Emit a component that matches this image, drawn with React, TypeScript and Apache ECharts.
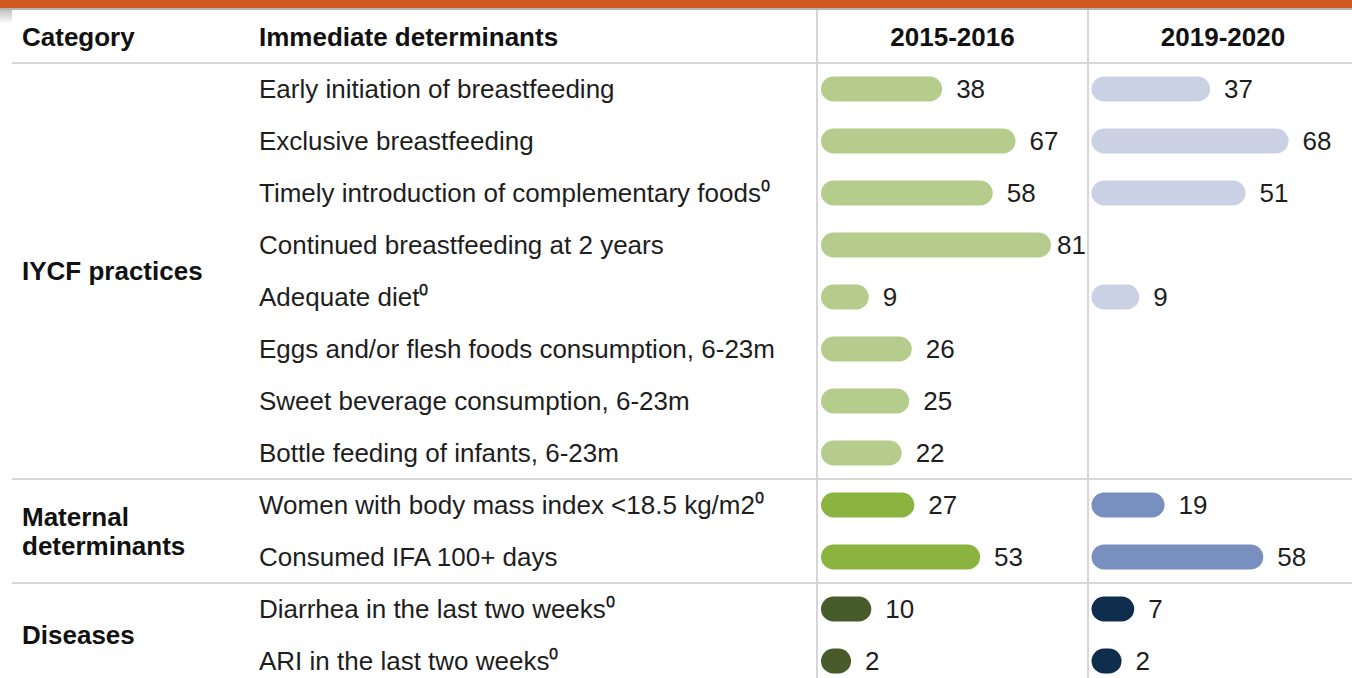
import React, { useEffect, useRef } from "react";
import * as echarts from "echarts";

// ---------- data ----------
const headers = ["Category", "Immediate determinants"];
const periods = ["2015-2016", "2019-2020"];
const determinants = [
  "Early initiation of breastfeeding",
  "Exclusive breastfeeding",
  "Timely introduction of complementary foods⁰",
  "Continued breastfeeding at 2 years",
  "Adequate diet⁰",
  "Eggs and/or flesh foods consumption, 6-23m",
  "Sweet beverage consumption, 6-23m",
  "Bottle feeding of infants, 6-23m",
  "Women with body mass index <18.5 kg/m2⁰",
  "Consumed IFA 100+ days",
  "Diarrhea in the last two weeks⁰",
  "ARI in the last two weeks⁰",
];
const groupNames = ["IYCF practices", "Maternal\ndeterminants", "Diseases"];
const groupSizes = [8, 2, 2];
const values2015: (number | null)[] = [38, 67, 58, 81, 9, 26, 25, 22, 27, 53, 10, 2];
const values2019: (number | null)[] = [37, 68, 51, null, 9, null, null, null, 19, 58, 7, 2];

// ---------- styles / layout ----------
const FONT = '"Liberation Sans", Arial, Helvetica, sans-serif';
const TEXT = "#1e1e1e";
const FS = 26;
const W = 1352;
const H = 678;
const CANVAS_H = 720;
const ROW_TOP = 63;
const ROW_H = 52;
const GRID_LEFT = [833.5, 1104];
const X_MAX = 80;
const GRID_W = 202.4;
const COL_DIV = [817, 1088];
const COL_RIGHT = [1088, 1352];
const BAR_H = 25;
const LINE_COLOR = "#d6d6d6";
const palette = [
  ["#b6cc8c", "#8ab43f", "#485b2a"],
  ["#cbd1e5", "#788fbf", "#0f2e4e"],
];

function groupOf(row: number): number {
  let acc = 0;
  for (let g = 0; g < groupSizes.length; g++) {
    acc += groupSizes[g];
    if (row < acc) return g;
  }
  return groupSizes.length - 1;
}

export default function App() {
  const ref = useRef<HTMLDivElement>(null);
  useEffect(() => {
    if (!ref.current) return;
    const chart = echarts.init(ref.current, undefined, { renderer: "svg" });
    const nRows = determinants.length;
    const allValues = [values2015, values2019];

    const grids = GRID_LEFT.map((left) => ({
      left,
      top: ROW_TOP,
      width: GRID_W,
      height: nRows * ROW_H,
      containLabel: false,
    }));
    const xAxes = GRID_LEFT.map((_, i) => ({
      type: "value",
      gridIndex: i,
      min: 0,
      max: X_MAX,
      show: false,
    }));
    const yAxes = GRID_LEFT.map((_, i) => ({
      type: "category",
      gridIndex: i,
      data: determinants,
      inverse: true,
      axisLine: { show: false },
      axisTick: { show: false },
      splitLine: { show: false },
      axisLabel: {
        show: i === 0,
        align: "left",
        margin: GRID_LEFT[0] - 259,
        fontSize: FS,
        fontFamily: FONT,
        color: TEXT,
      },
    }));

    const series = allValues.map((vals, p) => ({
      type: "custom",
      xAxisIndex: p,
      yAxisIndex: p,
      clip: false,
      encode: { x: 0, y: 1 },
      data: vals
        .map((v, i) => (v == null ? null : [v, i]))
        .filter((d) => d !== null),
      renderItem: (params: any, api: any) => {
        const v = api.value(0) as number;
        const row = api.value(1) as number;
        const s = api.coord([0, row]);
        const e = api.coord([v, row]);
        const x0 = s[0] - BAR_H / 2;
        const x1 = e[0] + BAR_H / 2;
        const cy = s[1];
        const color = palette[p][groupOf(row)];
        return {
          type: "group",
          children: [
            {
              type: "rect",
              shape: { x: x0, y: cy - BAR_H / 2, width: x1 - x0, height: BAR_H, r: BAR_H / 2 },
              style: { fill: color },
            },
            {
              type: "text",
              style: {
                text: String(v),
                x: Math.min(x1 + 14, COL_RIGHT[p] - 31),
                y: cy,
                align: "left",
                verticalAlign: "middle",
                fontSize: FS,
                fontFamily: FONT,
                fill: TEXT,
              },
            },
          ],
        };
      },
    }));

    // table decorations
    const graphics: any[] = [
      { type: "rect", shape: { x: 0, y: 0, width: W, height: 8 }, style: { fill: "#d05a22" } },
      { type: "rect", shape: { x: 0, y: 8, width: W, height: 2 }, style: { fill: "#b4b4b4" } },
      {
        type: "rect",
        shape: { x: 0, y: 10, width: 12, height: 14 },
        style: {
          fill: new echarts.graphic.LinearGradient(0, 0, 0, 1, [
            { offset: 0, color: "#c4c4c4" },
            { offset: 1, color: "#ffffff" },
          ]),
        },
      },
    ];
    // horizontal rules: under header and between groups
    const ruleRows = [0];
    let acc = 0;
    for (let g = 0; g < groupSizes.length - 1; g++) {
      acc += groupSizes[g];
      ruleRows.push(acc);
    }
    ruleRows.forEach((r) => {
      const y = ROW_TOP + r * ROW_H;
      graphics.push({
        type: "line",
        shape: { x1: 12, y1: y, x2: W, y2: y },
        style: { stroke: LINE_COLOR, lineWidth: 2 },
      });
    });
    COL_DIV.forEach((x) => {
      graphics.push({
        type: "line",
        shape: { x1: x, y1: 10, x2: x, y2: CANVAS_H },
        style: { stroke: LINE_COLOR, lineWidth: 2 },
      });
    });
    // header texts
    const headerY = 37;
    graphics.push({
      type: "text",
      style: { text: headers[0], x: 22, y: headerY, verticalAlign: "middle", font: `bold ${FS}px ${FONT}`, fill: "#111" },
    });
    graphics.push({
      type: "text",
      style: { text: headers[1], x: 259, y: headerY, verticalAlign: "middle", font: `bold ${FS}px ${FONT}`, fill: "#111" },
    });
    const periodCenters = [(COL_DIV[0] + COL_DIV[1]) / 2, 1223];
    periods.forEach((pName, i) => {
      graphics.push({
        type: "text",
        style: {
          text: pName,
          x: periodCenters[i],
          y: headerY,
          align: "center",
          verticalAlign: "middle",
          font: `bold ${FS}px ${FONT}`,
          fill: "#111",
        },
      });
    });
    // group names
    let start = 0;
    groupNames.forEach((name, g) => {
      const end = start + groupSizes[g];
      const cy = ROW_TOP + ((start + end) / 2) * ROW_H;
      graphics.push({
        type: "text",
        style: {
          text: name,
          x: 22,
          y: cy,
          verticalAlign: "middle",
          font: `bold ${FS}px ${FONT}`,
          lineHeight: 29,
          fill: "#111",
        },
      });
      start = end;
    });

    chart.setOption({
      animation: false,
      backgroundColor: "#ffffff",
      grid: grids,
      xAxis: xAxes,
      yAxis: yAxes,
      series,
      graphic: graphics,
    } as any);
    return () => chart.dispose();
  }, []);
  return (
    <div
      ref={ref}
      style={{ position: "fixed", left: 0, top: 0, width: W + "px", height: CANVAS_H + "px" }}
    />
  );
}
